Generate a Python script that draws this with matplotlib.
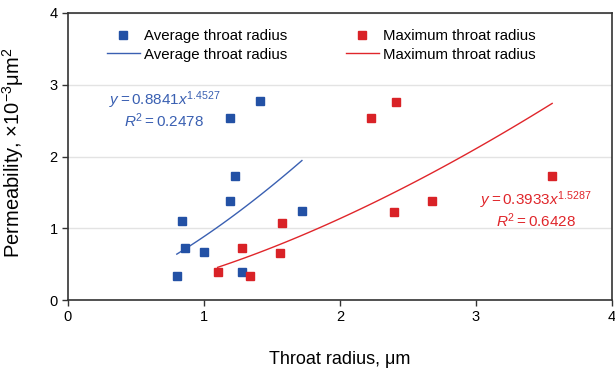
import numpy as np
import matplotlib
matplotlib.use("Agg")
import matplotlib.pyplot as plt
from matplotlib.lines import Line2D

plt.rcParams['font.family'] = ['Liberation Sans', 'DejaVu Sans']
plt.rcParams['mathtext.fontset'] = 'custom'
plt.rcParams['mathtext.rm'] = 'Liberation Sans'
plt.rcParams['mathtext.it'] = 'Liberation Sans:italic'

# permeability of the samples (x10^-3 um^2)
perm = [2.78, 2.53, 1.73, 1.38, 1.10, 0.72, 0.67, 0.33, 0.39, 1.24]
# average throat radius (um)
avg_r = [1.41, 1.19, 1.23, 1.19, 0.84, 0.86, 1.00, 0.80, 1.28, 1.72]
# maximum throat radius (um)
max_perm = [2.76, 2.53, 1.73, 1.38, 1.08, 0.72, 0.65, 0.33, 0.39, 1.22]
max_r = [2.41, 2.23, 3.56, 2.68, 1.57, 1.28, 1.56, 1.34, 1.10, 2.40]

# power-law fits shown on the chart: y = a * x^b
avg_fit = (0.8841, 1.4527, 0.2478)
max_fit = (0.3933, 1.5287, 0.6428)

blue = '#2351a5'
red = '#d92227'
blue_line = '#3a60b2'
red_line = '#e0262b'

fig = plt.figure(figsize=(6.15, 3.71), dpi=100)
ax = fig.add_axes([68/615, 71/371, 544/615, 287/371])

ax.grid(axis='y', color='#e3e3e3', lw=1)
ax.set_axisbelow(True)

x1 = np.linspace(min(avg_r), max(avg_r), 50)
ax.plot(x1, avg_fit[0] * x1**avg_fit[1], color=blue_line, lw=1)
x2 = np.linspace(min(max_r), max(max_r), 50)
ax.plot(x2, max_fit[0] * x2**max_fit[1], color=red_line, lw=1)

ax.plot(avg_r, perm, 's', color=blue, ms=6, ls='none')
ax.plot(max_r, max_perm, 's', color=red, ms=6, ls='none')

ax.set_xlim(0, 4)
ax.set_ylim(0, 4)
ax.set_xticks([0, 1, 2, 3, 4])
ax.set_yticks([0, 1, 2, 3, 4])
ax.tick_params(labelsize=10.5, length=4, width=1, color='#333333', direction='out')
for s in ax.spines.values():
    s.set_color('#333333')
    s.set_linewidth(1.2)

ax.set_xlabel('Throat radius, μm', fontsize=13, labelpad=19)
ax.set_ylabel('Permeability, ×10$^{-3}$μm$^{2}$', fontsize=14.5)
ax.yaxis.set_label_coords(-0.077, 0.512)

ax.text(0.71, 2.78, r'$y = 0.8841x^{1.4527}$', color=blue_line, fontsize=11,
        ha='center', va='center')
ax.text(0.71, 2.50, r'$R^2 = 0.2478$', color=blue_line, fontsize=11,
        ha='center', va='center')
ax.text(3.44, 1.39, r'$y = 0.3933x^{1.5287}$', color=red_line, fontsize=11,
        ha='center', va='center')
ax.text(3.44, 1.11, r'$R^2 = 0.6428$', color=red_line, fontsize=11,
        ha='center', va='center')

handles = [
    Line2D([], [], marker='s', color=blue, ls='none', ms=6),
    Line2D([], [], color=blue_line, lw=1),
    Line2D([], [], marker='s', color=red, ls='none', ms=6),
    Line2D([], [], color=red_line, lw=1),
]
labels = ['Average throat radius'] * 2 + ['Maximum throat radius'] * 2
ax.legend(handles, labels, ncol=2, loc='upper left', bbox_to_anchor=(0.06, 0.965),
          frameon=False, fontsize=10.8, handlelength=2.2, columnspacing=3.9,
          labelspacing=0.3, handletextpad=0.3, borderaxespad=0)

fig.savefig('out.png', dpi=100)
